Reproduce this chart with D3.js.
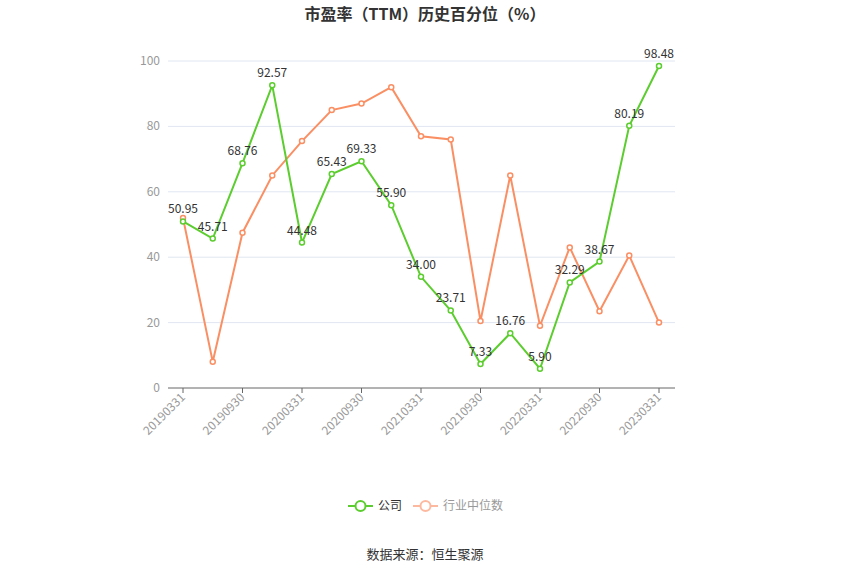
<!DOCTYPE html><html><head><meta charset="utf-8"><script src="https://cdn.jsdelivr.net/npm/d3@7"></script>
<style>body{margin:0;background:#fff}text{font-family:"Noto Sans CJK SC","Noto Sans",sans-serif}</style></head><body>
<svg id="c" width="850" height="575"></svg>
<script>
const categories=["20190331","20190630","20190930","20191231","20200331","20200630","20200930","20201231","20210331","20210630","20210930","20211231","20220331","20220630","20220930","20221231","20230331"];
const companyValues=[50.95,45.71,68.76,92.57,44.48,65.43,69.33,55.90,34.00,23.71,7.33,16.76,5.90,32.29,38.67,80.19,98.48];
const industryValues=[52,8,47.5,65,75.5,85,87,92,77,76,20.5,65,19,43,23.5,40.5,20];
const yTicks=[0,20,40,60,80,100];
const svg=d3.select("#c");
const x=d3.scalePoint().domain(categories).range([183,659]);
const y=d3.scaleLinear().domain([0,100]).range([388,61]);
svg.append("text").attr("x",425).attr("y",20).attr("text-anchor","middle").attr("font-size",16).attr("font-weight","bold").attr("fill","#333").text("市盈率（TTM）历史百分位（%）");
yTicks.forEach(t=>{svg.append("line").attr("x1",168).attr("x2",675).attr("y1",y(t)).attr("y2",y(t)).attr("stroke",t?"#e0e6f1":"#666");
svg.append("text").attr("x",160).attr("y",y(t)+4).attr("text-anchor","end").attr("font-size",12).attr("fill","#999").text(t);});
categories.forEach((c,i)=>{if(i%2)return;svg.append("line").attr("x1",x(c)).attr("x2",x(c)).attr("y1",388).attr("y2",393).attr("stroke","#666");
svg.append("text").attr("transform",`translate(${x(c)+3},${398}) rotate(-45)`).attr("text-anchor","end").attr("font-size",12).attr("fill","#999").text(c);});
const line=d3.line().x((d,i)=>x(categories[i])).y(d=>y(d));
function series(vals,col,labels){svg.append("path").attr("d",line(vals)).attr("fill","none").attr("stroke",col).attr("stroke-width",2);
vals.forEach((v,i)=>{svg.append("circle").attr("cx",x(categories[i])).attr("cy",y(v)).attr("r",2.5).attr("fill","#fff").attr("stroke",col).attr("stroke-width",1.5);
if(labels)svg.append("text").attr("x",x(categories[i])).attr("y",y(v)-8).attr("text-anchor","middle").attr("font-size",12).attr("fill","#333").text(v.toFixed(2));});}
series(industryValues,"#fa8f64",false);
series(companyValues,"#5ccd2f",true);
function leg(x0,col,txt,tc){svg.append("line").attr("x1",x0).attr("x2",x0+25).attr("y1",506).attr("y2",506).attr("stroke",col).attr("stroke-width",2);
svg.append("circle").attr("cx",x0+12.5).attr("cy",506).attr("r",5).attr("fill","#fff").attr("stroke",col).attr("stroke-width",2);
svg.append("text").attr("x",x0+30).attr("y",510).attr("font-size",12).attr("fill",tc).text(txt);}
leg(348,"#5ccd2f","公司","#333");leg(413,"#fdb9a0","行业中位数","#999");
svg.append("text").attr("x",425).attr("y",559).attr("text-anchor","middle").attr("font-size",13).attr("fill","#333").text("数据来源：恒生聚源");
</script></body></html>
